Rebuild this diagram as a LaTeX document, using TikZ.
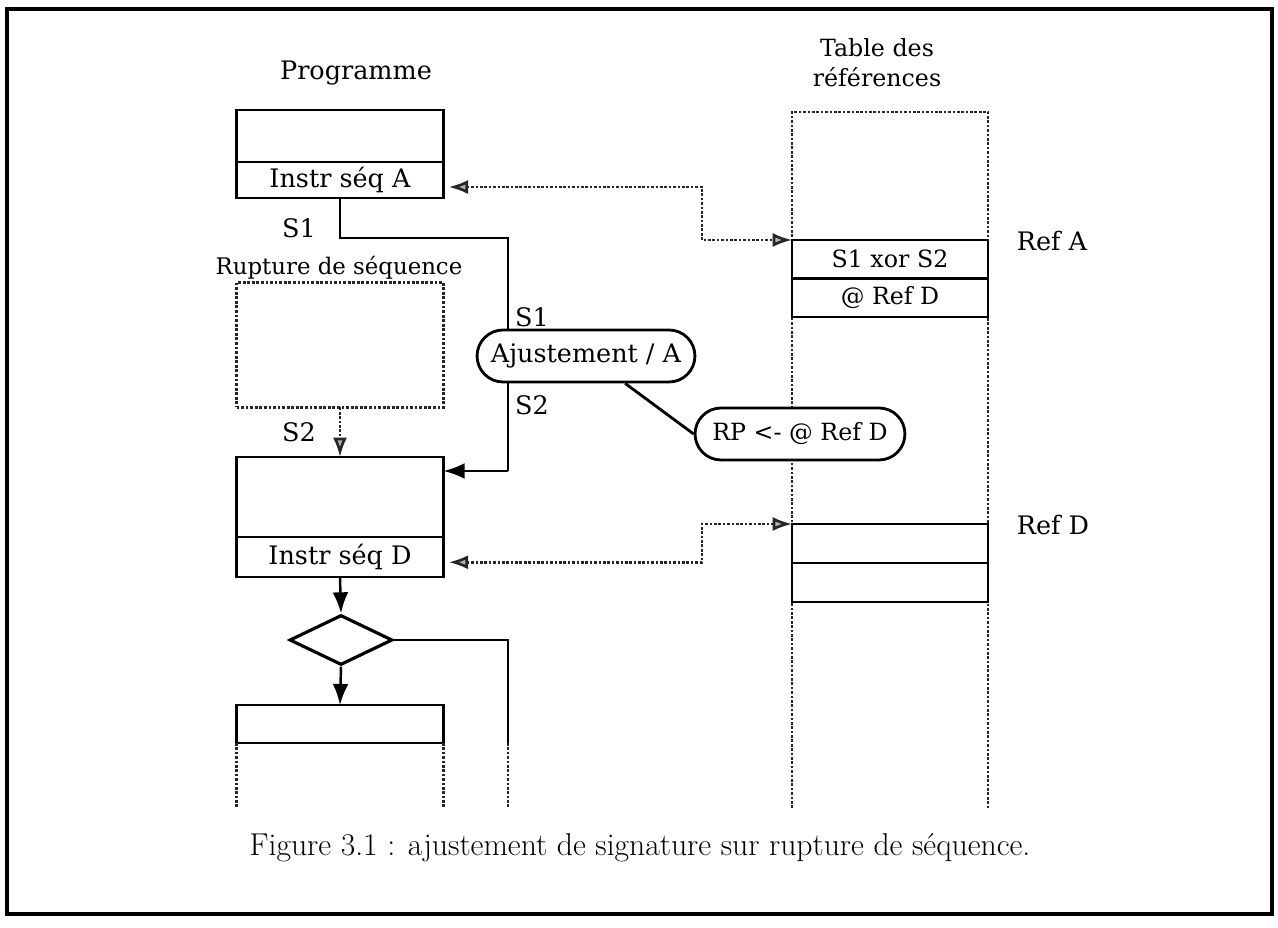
\documentclass[tikz,border=0pt]{standalone}
\usepackage{fontspec}
\usepackage{tikz}
\usetikzlibrary{shapes.geometric, shapes.misc, arrows.meta, positioning}
\newfontfamily\labelfont{DejaVu Serif}
\tikzset{
  cell/.style={rectangle, draw, line width=1.6pt, fill=white, minimum width=4.14cm, inner sep=0pt, outer sep=0pt},
  refcell/.style={rectangle, draw, line width=1.6pt, fill=white, minimum width=3.92cm, minimum height=0.78cm, inner sep=0pt, outer sep=0pt, font=\labelfont\fontsize{13.5}{17}\selectfont},
  bubble/.style={rounded rectangle, draw, line width=1.6pt, fill=white, minimum height=1.04cm, inner xsep=4pt},
  test/.style={diamond, draw, line width=1.8pt, minimum width=2.06cm, minimum height=1cm, inner sep=0pt},
  wire/.style={line width=1.2pt},
  flow/.style={-{Latex[length=12pt,width=9pt]}, line width=1.4pt},
  dots/.style={densely dotted, line width=1.5pt, black!85},
  dtip/.style={dots, -{Latex[length=11pt,width=8pt,fill=gray!60]}},
  refarrow/.style={dots, {Latex[length=11pt,width=8pt,fill=gray!60]}-{Latex[length=11pt,width=8pt,fill=gray!60]}},
}

\begin{document}
\begin{tikzpicture}[x={(0.02cm,0)}, y={(0,-0.02cm)}, font=\labelfont\fontsize{14.5}{18}\selectfont]
  \useasboundingbox (0,0) rectangle (1278,928);
  \draw[line width=2.2pt] (7,9) rectangle (1272,914);

  % Titles
  \node (progtitle) at (356,73) {Programme};
  \node[align=center, font=\labelfont\fontsize{13.5}{17}\selectfont] (tabtitle) at (877,63) {Table des\\références};

  % Program column
  \node[cell, minimum height=1.04cm] (boxAtop) at (340,136) {};
  \node[cell, minimum height=0.72cm, below=0pt of boxAtop] (boxA) {Instr séq A};
  \node[cell, dots, fill=none, minimum height=2.5cm] (rupture) at (340,345) {};
  \node[font=\labelfont\fontsize{13}{17}\selectfont] (rupturelbl) at (339,268) {Rupture de séquence};
  \node[cell, minimum height=1.6cm] (boxDtop) at (340,497) {};
  \node[cell, minimum height=0.8cm, below=0pt of boxDtop] (boxD) {Instr séq D};
  \node[test] (cond) at (341,640) {};
  \node[cell, minimum height=0.76cm] (boxE) at (340,724) {};

  % Reference table
  \coordinate (colTL) at (792,112);
  \coordinate (colTR) at (988,112);
  \coordinate (colBL) at (792,808);
  \coordinate (colBR) at (988,808);
  \draw[dots] (colBL) -- (colTL) -- (colTR) -- (colBR);
  \node[refcell, minimum height=0.77cm, anchor=north] (refA1) at (890,240) {S1 xor S2};
  \node[refcell, minimum height=0.77cm, below=0pt of refA1] (refA2) {@ Ref D};
  \node[refcell, anchor=north] (refD1) at (890,524) {};
  \node[refcell, below=0pt of refD1] (refD2) {};
  \node (refAlbl) at (1052,241) {Ref A};
  \node (refDlbl) at (1053,525) {Ref D};

  % Adjustment
  \node[bubble, minimum width=4.64cm] (adjust) at (586,356) {Ajustement / A};
  \node[bubble, minimum width=4.48cm, font=\labelfont\fontsize{13.5}{17}\selectfont] (rp) at (800,434) {RP <- @ Ref D};
  \draw[line width=1.6pt] (adjust.-35) -- (rp.west);

  % Signature labels
  \node (s1a) at (299,228) {S1};
  \node (s2a) at (299,432) {S2};
  \node (s1b) at (532,317) {S1};
  \node (s2b) at (532,405) {S2};

  % Wires
  \coordinate (s1turn) at (508,238);
  \coordinate (s2in) at (508,471);
  \coordinate (condout) at (508,743);
  \draw[wire] (boxA.south) |- (s1turn) -- (adjust.north -| s1turn);
  \draw[wire] (adjust.south -| s1turn) -- (s2in);
  \draw[flow] (s2in) -- (s2in -| boxDtop.east);
  \draw[dtip] (rupture.south) -- (boxDtop.north);
  \draw[flow] (boxD.south) -- (cond.north);
  \draw[flow] (cond.south) -- (boxE.north);
  \draw[wire] (cond.east) -| (condout);
  \draw[dots] (condout) -- ++(0,65);
  \draw[dots] (boxE.south west) -- ++(0,65);
  \draw[dots] (boxE.south east) -- ++(0,65);

  % References
  \coordinate (jogA) at (702,214);
  \coordinate (jogD) at (702,543);
  \draw[refarrow, shorten <=3pt] ([yshift=-4pt]boxA.east) -| (jogA) |- (refA1.north west);
  \draw[refarrow, shorten <=3pt] ([yshift=-3pt]boxD.east) -| (jogD) |- (refD1.north west);

  % Caption
  \node[font=\rmfamily\fontsize{18}{22}\selectfont] (caption) at (640,848) {Figure 3.1 : ajustement de signature sur rupture de séquence.};
\end{tikzpicture}
\end{document}
